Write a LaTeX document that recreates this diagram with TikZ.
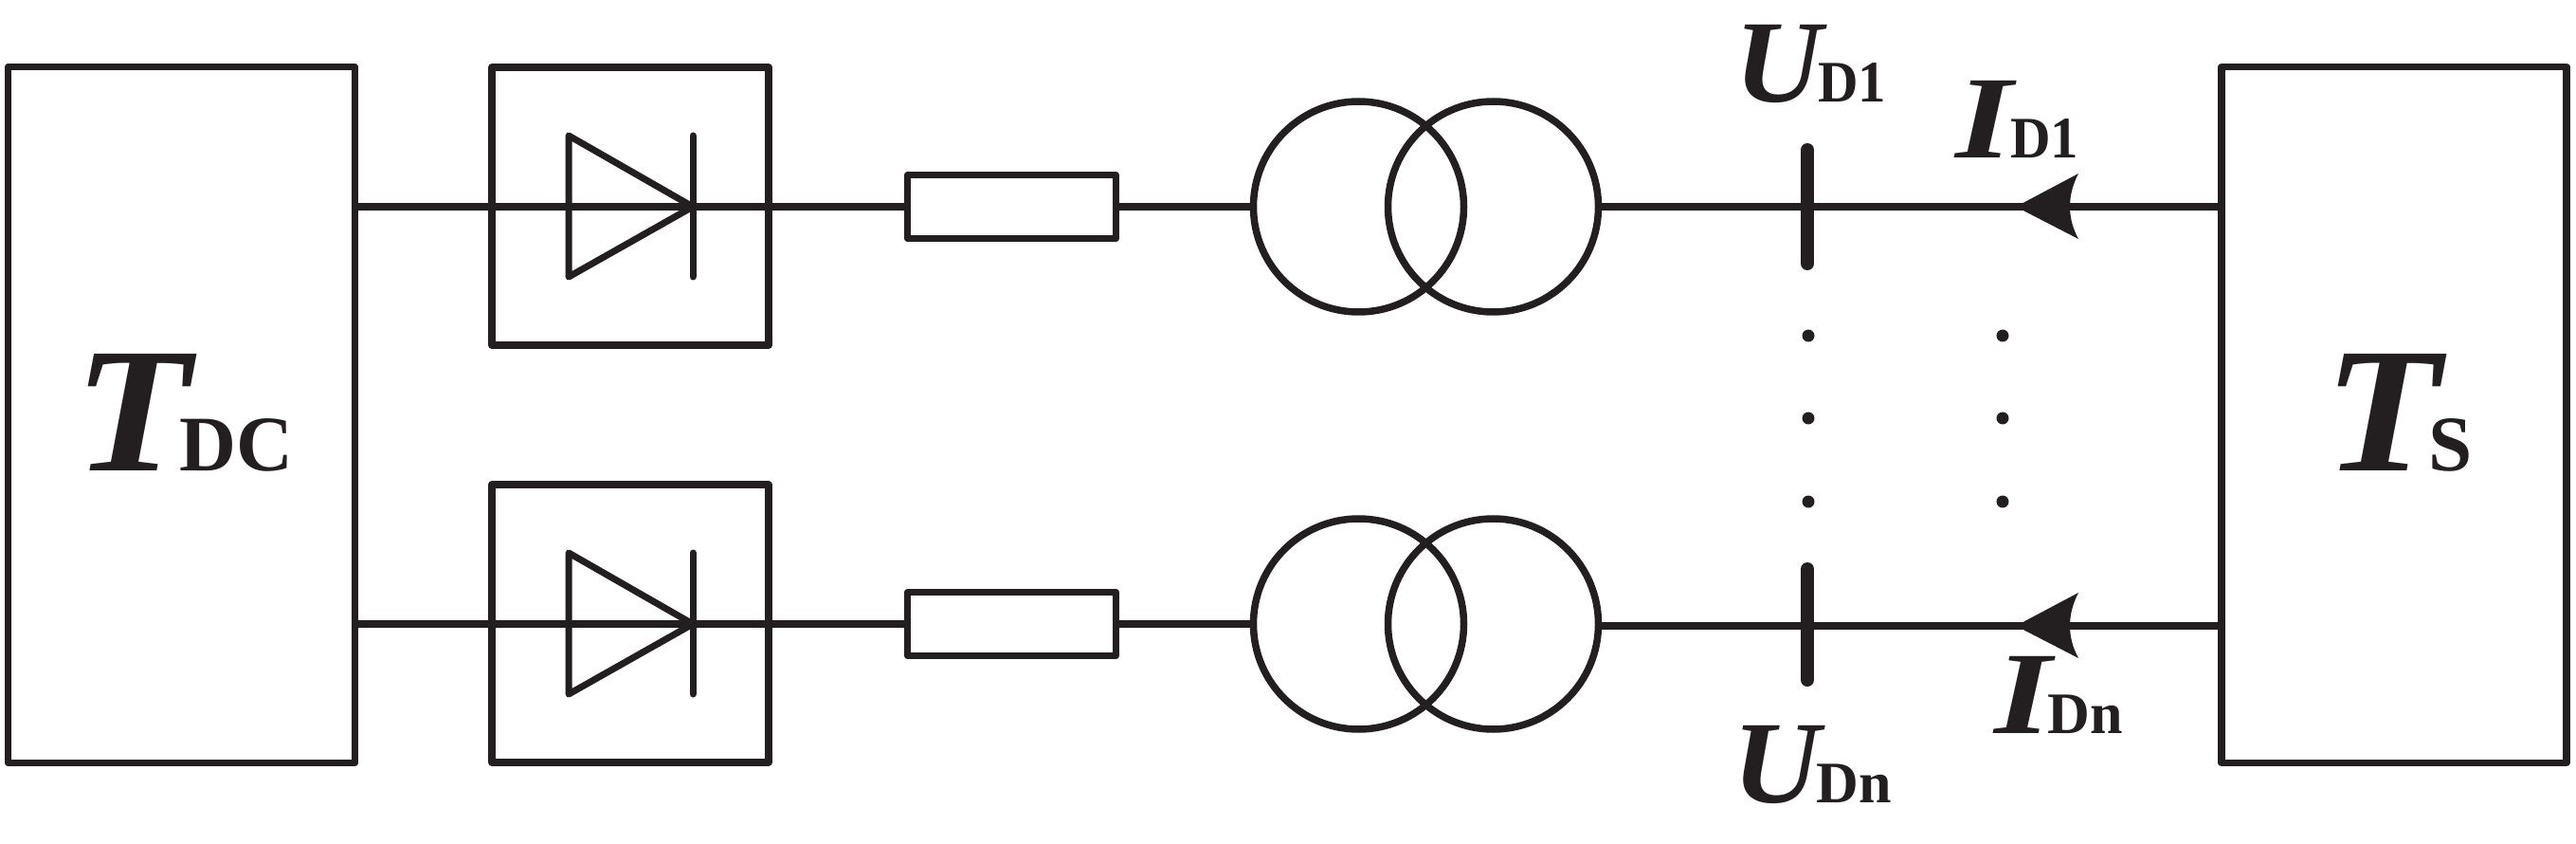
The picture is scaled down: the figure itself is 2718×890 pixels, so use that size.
\documentclass[tikz,border=0pt]{standalone}
\usepackage{fontspec}
\usepackage{graphicx}
\setmainfont{Liberation Serif}
\definecolor{ink}{HTML}{231F20}
% main size, main x-scale, main letter, kern, sub size, sub x-scale, sub text
\newcommand{\sublabel}[7]{\scalebox{#2}[1]{\fontsize{#1}{#1}\selectfont\bfseries\itshape #3}\kern#4pt\scalebox{#6}[1]{\fontsize{#5}{#5}\selectfont\bfseries #7}}
\tikzset{
  x=1pt,y=-1pt,
  wire/.style={draw=ink,line width=7.5pt},
  blockbox/.style={draw=ink,line width=7.5pt,rectangle,inner sep=0pt,outer sep=0pt,line join=round,fill=none},
  coil/.style={draw=ink,line width=7.5pt,circle,inner sep=0pt,outer sep=0pt,minimum size=222pt,fill=none},
  diodeline/.style={draw=ink,line width=7pt,line cap=round,line join=round},
  busbar/.style={draw=ink,line width=14pt,line cap=round},
  dotmark/.style={circle,fill=ink,inner sep=0pt,outer sep=0pt,minimum size=13pt},
  lab/.style={text=ink,inner sep=0pt,outer sep=0pt,anchor=base west},
}
\begin{document}
\begin{tikzpicture}
\useasboundingbox (0,0) rectangle (2718,890);
% main blocks
\node[blockbox,minimum width=366pt,minimum height=734pt] (tdc) at (191.5,437.5) {};
\node[blockbox,minimum width=364pt,minimum height=734pt] (ts) at (2526,437.5) {};
\foreach \r/\dy in {a/0,b/440}{
  \node[blockbox,minimum width=292pt,minimum height=293pt] (conv\r) at (665,217.5+\dy) {};
  \node[blockbox,minimum width=220pt,minimum height=67pt] (fuse\r) at (1067.5,218+\dy) {};
  \node[coil] (pri\r) at (1433.5,218+\dy) {};
  \node[coil] (sec\r) at (1575.5,218+\dy) {};
  \coordinate (tip\r) at (731,218+\dy);
  \draw[diodeline] (600,143+\dy) -- (tip\r) -- (600,292+\dy) -- cycle;
  \draw[diodeline] (731,143+\dy) -- (731,292+\dy);
  \draw[wire] (tdc.east |- fuse\r.west) -- (fuse\r.west);
  \draw[wire] (fuse\r.east) -- (pri\r.west);
}
% secondary wires and measurement marks
\foreach \r/\yy in {a/218,b/660}{
  \coordinate (out\r) at (sec\r.east |- 0,\yy);
  \coordinate (in\r) at (ts.west |- 0,\yy);
  \coordinate (ah\r) at (2127,\yy);
  \draw[wire] (in\r) -- (out\r);
  \fill[ink] (ah\r) -- (2193,\yy-35) .. controls (2181,\yy-12) and (2181,\yy+12) .. (2193,\yy+34) -- cycle;
}
\coordinate (bar1a) at (1907,158);
\coordinate (bar1b) at (1907,278);
\coordinate (bar2a) at (1907,600);
\coordinate (bar2b) at (1907,717);
\draw[busbar] (bar1a) -- (bar1b);
\draw[busbar] (bar2a) -- (bar2b);
% continuation dots
\foreach \n/\yy in {1/354,2/441,3/529}{
  \node[dotmark] (du\n) at (1908,\yy) {};
  \node[dotmark] (di\n) at (2113,\yy) {};
}
% labels
\node[lab] (ltdc) at (78,496) {\sublabel{188}{1.07}{T}{-11}{83}{1}{DC}};
\node[lab] (lts) at (2452,496) {\sublabel{188}{1.07}{T}{-12}{83}{1}{S}};
\node[lab] (lu1) at (1830,108) {\sublabel{124}{1.03}{U}{-4}{62}{0.95}{D1}};
\node[lab] (li1) at (2063,167) {\sublabel{124}{1.25}{I}{-2}{62}{0.95}{D1}};
\node[lab] (lun) at (1828,846) {\sublabel{124}{1.03}{U}{-4}{62}{1}{Dn}};
\node[lab] (lin) at (2104,773) {\sublabel{124}{1.25}{I}{-4}{62}{1}{Dn}};
\end{tikzpicture}
\end{document}
